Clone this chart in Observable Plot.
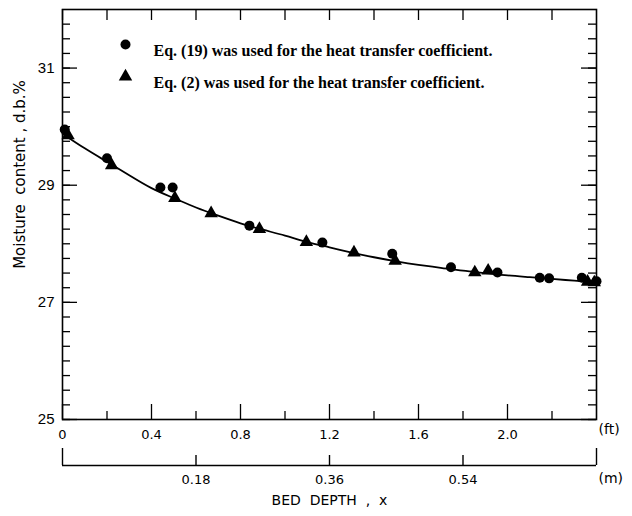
<!DOCTYPE html>
<html>
<head>
<meta charset="utf-8">
<script src="https://cdn.jsdelivr.net/npm/d3@7"></script>
<script src="https://cdn.jsdelivr.net/npm/@observablehq/plot@0.6"></script>
<style>
  html, body { margin: 0; padding: 0; background: #fff; }
</style>
</head>
<body>
<div id="chart"></div>
<script>
// ---- Data (bed depth in ft, moisture content in % d.b.) ----
const circleX = [0.01, 0.20, 0.44, 0.495, 0.84, 1.168, 1.482, 1.746, 1.955, 2.145, 2.187, 2.334, 2.40];
const circleY = [29.95, 29.46, 28.96, 28.96, 28.31, 28.02, 27.83, 27.60, 27.51, 27.42, 27.41, 27.42, 27.36];

const triX = [0.025, 0.221, 0.505, 0.668, 0.885, 1.096, 1.31, 1.495, 1.853, 1.913, 2.36, 2.39];
const triY = [29.85, 29.34, 28.78, 28.52, 28.25, 28.03, 27.85, 27.71, 27.51, 27.54, 27.35, 27.34];

const curveX = [0.0, 0.1, 0.2, 0.3, 0.4, 0.5, 0.6, 0.7, 0.8, 0.9, 1.0, 1.1, 1.2, 1.3, 1.4, 1.5, 1.6, 1.7, 1.8, 1.9, 2.0, 2.1, 2.2, 2.3, 2.4];
const curveY = [29.88, 29.63, 29.40, 29.17, 28.95, 28.78, 28.62, 28.48, 28.35, 28.24, 28.14, 28.03, 27.94, 27.85, 27.77, 27.70, 27.64, 27.59, 27.54, 27.50, 27.46, 27.43, 27.40, 27.37, 27.34];

// ---- Tick labels ----
const yTickLabels = [25, 27, 29, 31];
const yMinorTicks = [25, 25.25, 25.5, 25.75, 26, 26.25, 26.5, 26.75, 27, 27.25, 27.5, 27.75, 28, 28.25, 28.5, 28.75, 29, 29.25, 29.5, 29.75, 30, 30.25, 30.5, 30.75, 31, 31.25, 31.5, 31.75];
const ftTickLabels = ["0", "0.4", "0.8", "1.2", "1.6", "2.0"];
const ftMinorTicks = [0.2, 0.6, 1.0, 1.4, 1.8, 2.2];
const meterTickLabels = ["0.18", "0.36", "0.54"];
const meterEnds = [0, 0.72];
const FT_PER_M = 1 / 0.3; // scale of the (m) axis in the figure

const legendLabels = [
  "Eq. (19) was used for the heat transfer coefficient.",
  "Eq. (2) was used for the heat transfer coefficient."
];

const circles = circleX.map((x, i) => ({x, y: circleY[i]}));
const triangles = triX.map((x, i) => ({x, y: triY[i]}));
const curve = curveX.map((x, i) => ({x, y: curveY[i]}));
const ftMajor = ftTickLabels.map(Number);

const W = 632, H = 516;
const mTop = 9, mRight = 36, mBottom = 97, mLeft = 62;
const PH = H - mTop - mBottom; // plot height
const PW = W - mLeft - mRight;

const numFont = "Liberation Sans, Arial, sans-serif";
const plotterFont = "DejaVu Sans, sans-serif";
const serifFont = "Liberation Serif, Times New Roman, serif";

const chart = Plot.plot({
  width: W,
  height: H,
  marginTop: mTop,
  marginRight: mRight,
  marginBottom: mBottom,
  marginLeft: mLeft,
  x: {domain: [0, 2.4], axis: null},
  y: {domain: [25, 32], axis: null},
  style: {background: "white", color: "black", overflow: "visible"},
  marks: [
    Plot.frame({stroke: "black", strokeWidth: 1.6}),
    // bottom ticks (pointing up)
    Plot.ruleX(ftMajor, {x: d => d, insetTop: PH - 15, stroke: "black", strokeWidth: 1.3}),
    Plot.ruleX(ftMinorTicks, {x: d => d, insetTop: PH - 8, stroke: "black", strokeWidth: 1.3}),
    // top ticks (pointing down)
    Plot.ruleX(ftMajor.concat(ftMinorTicks), {x: d => d, insetBottom: PH - 11, stroke: "black", strokeWidth: 1.3}),
    // left ticks
    Plot.ruleY(yMinorTicks, {y: d => d, insetRight: PW - 8, stroke: "black", strokeWidth: 1.3}),
    Plot.ruleY(yTickLabels, {y: d => d, insetRight: PW - 15, stroke: "black", strokeWidth: 1.3}),
    // right ticks
    Plot.ruleY(yMinorTicks, {y: d => d, insetLeft: PW - 8, stroke: "black", strokeWidth: 1.3}),
    Plot.ruleY(yTickLabels, {y: d => d, insetLeft: PW - 15, stroke: "black", strokeWidth: 1.3}),
    // y tick labels
    Plot.text(yTickLabels, {y: d => d, text: d => String(d), frameAnchor: "left", dx: -8, textAnchor: "end",
      fontFamily: numFont, fontSize: 15, fill: "black"}),
    // ft tick labels
    Plot.text(ftTickLabels, {x: d => Number(d), text: d => d, frameAnchor: "bottom", dy: 19,
      fontFamily: plotterFont, fontSize: 13, fill: "black"}),
    Plot.text(["(ft)"], {frameAnchor: "bottom-right", dx: 2, dy: 14, textAnchor: "start",
      fontFamily: plotterFont, fontSize: 14, fill: "black"}),
    // meter axis
    Plot.ruleY([25], {dy: 46, stroke: "black", strokeWidth: 1.4}),
    Plot.ruleX(meterEnds, {x: d => d * FT_PER_M, insetTop: PH - 17, dy: 46, stroke: "black", strokeWidth: 1.4}),
    Plot.ruleX(meterTickLabels, {x: d => Number(d) * FT_PER_M, insetTop: PH - 10, dy: 46, stroke: "black", strokeWidth: 1.4}),
    Plot.text(meterTickLabels, {x: d => Number(d) * FT_PER_M, text: d => d, frameAnchor: "bottom", dy: 64,
      fontFamily: plotterFont, fontSize: 13, fill: "black"}),
    Plot.text(["(m)"], {frameAnchor: "bottom-right", dx: 2, dy: 63, textAnchor: "start",
      fontFamily: plotterFont, fontSize: 14, fill: "black"}),
    // axis titles
    Plot.text(["BED  DEPTH  ,  x"], {frameAnchor: "bottom", dy: 85,
      fontFamily: plotterFont, fontSize: 14, fill: "black"}),
    Plot.text(["Moisture  content , d.b.%"], {frameAnchor: "left", textAnchor: "middle", dx: -42, dy: -40, rotate: -90,
      fontFamily: plotterFont, fontSize: 15, fill: "black"}),
    // fitted curve
    Plot.line(curve, {x: "x", y: "y", curve: "natural", stroke: "black", strokeWidth: 1.8}),
    // data points
    Plot.dot(circles, {x: "x", y: "y", r: 5, symbol: "circle", fill: "black", stroke: "none"}),
    Plot.dot(triangles, {x: "x", y: "y", r: 5, symbol: "triangle", fill: "black", stroke: "none"}),
    // legend
    Plot.dot([legendLabels[0]], {frameAnchor: "top-left", dx: 63, dy: 35, r: 5, symbol: "circle", fill: "black", stroke: "none"}),
    Plot.dot([legendLabels[1]], {frameAnchor: "top-left", dx: 63, dy: 67, r: 5, symbol: "triangle", fill: "black", stroke: "none"}),
    Plot.text([legendLabels[0]], {frameAnchor: "top-left", dx: 91, dy: 35, textAnchor: "start",
      text: d => d, fontFamily: serifFont, fontWeight: "bold", fontSize: 16, fill: "black"}),
    Plot.text([legendLabels[1]], {frameAnchor: "top-left", dx: 91, dy: 67, textAnchor: "start",
      text: d => d, fontFamily: serifFont, fontWeight: "bold", fontSize: 16, fill: "black"})
  ]
});
document.getElementById("chart").appendChild(chart);
</script>
</body>
</html>
